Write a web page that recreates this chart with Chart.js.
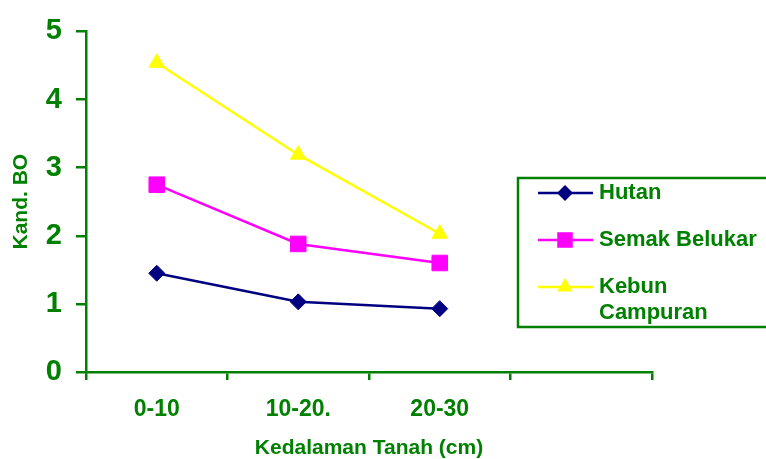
<!DOCTYPE html>
<html lang="id">
<head>
<meta charset="UTF-8">
<title>Kandungan BO</title>
<script src="https://cdn.jsdelivr.net/npm/chart.js"></script>
<style>
    html, body { margin: 0; padding: 0; background: #ffffff; }
    #wrap { width: 766px; height: 459px; }
</style>
</head>
<body>
<div id="wrap"><canvas id="boChart" width="766" height="459"></canvas></div>
<script>
// data
const depthLabels = ['0-10', '10-20.', '20-30', ''];
const seriesNames = ['Hutan', 'Semak Belukar', 'Kebun Campuran'];
const hutan = [1.45, 1.03, 0.93];
const semakBelukar = [2.75, 1.88, 1.60];
const kebunCampuran = [4.54, 3.19, 2.03];
const yTicks = [0, 1, 2, 3, 4, 5];

const GREEN = '#008000';
const FONT = 'Arial, "Liberation Sans", sans-serif';

// legend drawn by hand so it can sit inside the plot like the original
const boxLegend = {
    id: 'boxLegend',
    afterDraw(chart) {
        const ctx = chart.ctx;
        ctx.save();
        ctx.strokeStyle = GREEN;
        ctx.lineWidth = 2.5;
        ctx.strokeRect(518, 178, 262, 149);

        const rows = [193, 240, 287];
        ctx.font = 'bold 22px ' + FONT;
        ctx.textBaseline = 'middle';
        chart.data.datasets.forEach((ds, i) => {
            const y = rows[i];
            ctx.strokeStyle = ds.borderColor;
            ctx.lineWidth = 2.5;
            ctx.beginPath();
            ctx.moveTo(538, y);
            ctx.lineTo(593, y);
            ctx.stroke();
            ctx.fillStyle = ds.borderColor;
            drawMarker(ctx, ds.pointStyle, 565, y, ds.pointRadius);

            ctx.fillStyle = GREEN;
            let words = ds.label.split(' ');
            let lines = ctx.measureText(ds.label).width > 170 ? words : [ds.label];
            lines.forEach((t, k) => ctx.fillText(t, 599, y + k * 26));
        });
        ctx.restore();
    }
};

function drawMarker(ctx, style, x, y, r) {
    ctx.beginPath();
    if (style === 'rectRot') {
        ctx.moveTo(x - r, y); ctx.lineTo(x, y - r); ctx.lineTo(x + r, y); ctx.lineTo(x, y + r);
    } else if (style === 'rect') {
        const s = r * Math.SQRT1_2;
        ctx.rect(x - s, y - s, 2 * s, 2 * s);
    } else {
        ctx.moveTo(x, y - r);
        ctx.lineTo(x + r * Math.sin(Math.PI * 2 / 3), y + r / 2);
        ctx.lineTo(x - r * Math.sin(Math.PI * 2 / 3), y + r / 2);
    }
    ctx.closePath();
    ctx.fill();
}

function series(label, data, color, style, radius) {
    return {
        label: label,
        data: data,
        borderColor: color,
        backgroundColor: color,
        borderWidth: 2.5,
        pointStyle: style,
        pointRadius: radius,
        pointHoverRadius: radius,
        pointBorderWidth: 1,
        pointBackgroundColor: color,
        tension: 0
    };
}

new Chart(document.getElementById('boChart'), {
    type: 'line',
    data: {
        labels: depthLabels,
        datasets: [
            series(seriesNames[0], hutan, '#000080', 'rectRot', 8),
            series(seriesNames[1], semakBelukar, '#ff00ff', 'rect', 11),
            series(seriesNames[2], kebunCampuran, '#ffff00', 'triangle', 9)
        ]
    },
    plugins: [boxLegend],
    options: {
        responsive: false,
        animation: false,
        layout: { padding: { top: 27, right: 114, bottom: 0, left: 0 } },
        plugins: {
            legend: { display: false },
            tooltip: { enabled: false }
        },
        scales: {
            x: {
                offset: true,
                grid: { offset: true, drawOnChartArea: false, tickLength: 8, color: GREEN, lineWidth: 2.5 },
                border: { display: true, color: GREEN, width: 2.5 },
                ticks: {
                    color: GREEN,
                    padding: 16,
                    maxRotation: 0,
                    autoSkip: false,
                    font: { family: FONT, size: 23, weight: 'bold' }
                },
                title: {
                    display: true,
                    text: 'Kedalaman Tanah (cm)',
                    color: GREEN,
                    padding: { top: 0, bottom: 0 },
                    font: { family: FONT, size: 21, weight: 'bold', lineHeight: 1 }
                },
                afterFit(scale) { scale.height = 87; }
            },
            y: {
                min: 0,
                max: 5,
                afterBuildTicks(scale) { scale.ticks = yTicks.map(v => ({ value: v })); },
                grid: { drawOnChartArea: false, tickLength: 10, color: GREEN, lineWidth: 2.5 },
                border: { display: true, color: GREEN, width: 2.5 },
                ticks: {
                    color: GREEN,
                    padding: 14,
                    font: { family: FONT, size: 29, weight: 'bold' }
                },
                title: {
                    display: true,
                    text: 'Kand. BO',
                    color: GREEN,
                    padding: { top: 9, bottom: 0 },
                    font: { family: FONT, size: 21, weight: 'bold' }
                },
                afterFit(scale) { scale.width = 86; }
            }
        }
    }
});
</script>
</body>
</html>
